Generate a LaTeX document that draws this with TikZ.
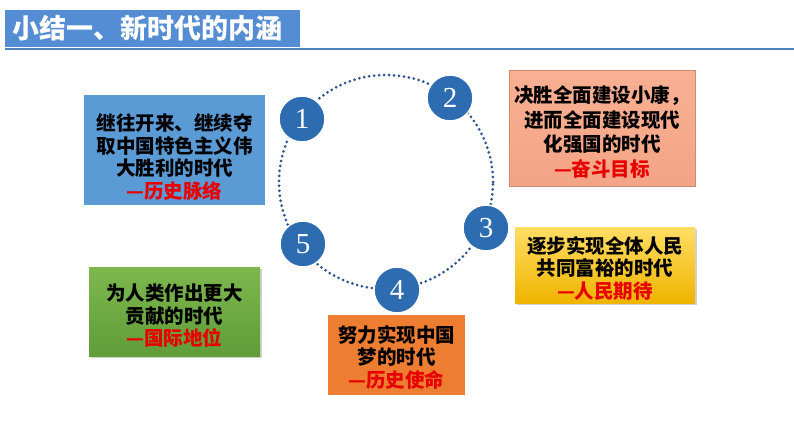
\documentclass[tikz,border=0pt]{standalone}
\usepackage{fontspec}
\setmainfont{Liberation Serif}
\newfontfamily\cjk{Noto Sans CJK SC}
\usetikzlibrary{shadows}
\definecolor{titleblue}{RGB}{84,141,212}
\definecolor{lineblue}{RGB}{79,129,189}
\definecolor{numblue}{RGB}{46,108,178}
\definecolor{ringblue}{RGB}{44,84,145}
\definecolor{histblue}{RGB}{91,155,213}
\definecolor{salmontop}{RGB}{248,176,146}
\definecolor{salmonbot}{RGB}{244,164,134}
\definecolor{goldtop}{RGB}{255,222,100}
\definecolor{goldbot}{RGB}{240,180,0}
\definecolor{greentop}{RGB}{125,184,78}
\definecolor{greenbot}{RGB}{96,156,56}
\definecolor{missionorange}{RGB}{237,125,49}
\definecolor{labelred}{RGB}{232,0,0}
\newcommand\lift[1]{\rule{0pt}{#1pt}}

\begin{document}
\begin{tikzpicture}[x=1pt,y=-1pt,semithick,
    num/.style={circle,fill=numblue,draw=white,line width=1.5pt,minimum size=46pt,
        inner sep=0pt,text=white,font=\fontsize{29}{29}\selectfont},
    box/.style={align=center,inner sep=0pt,font=\cjk\bfseries\fontsize{19.5}{22.5}\selectfont},
    shade/.style={drop shadow={opacity=0.35,shadow xshift=2pt,shadow yshift=-2pt}}]
    \useasboundingbox[fill=white] (0,0) rectangle (794,447);

    \node[fill=titleblue,text=white,anchor=west,minimum height=37pt,inner xsep=7pt,
        text width=281pt,font=\cjk\bfseries\fontsize{27}{27}\selectfont] (title) at (5,28.5) {小结一、新时代的内涵};
    \coordinate (lineend) at (794,49);
    \draw[lineblue,line width=2pt] (title.west |- lineend) -- (lineend);

    \coordinate (ring) at (386,182);
    \draw[ringblue,line width=3pt,line cap=round,dash pattern=on 0pt off 5pt] (ring) circle [radius=107pt];

    \node[num] (n1) at (302,119) {1};
    \node[num] (n2) at (450,98) {2};
    \node[num] (n3) at (486,228) {3};
    \node[num] (n4) at (397,290) {4};
    \node[num] (n5) at (303,244) {5};

    \node[box,fill=histblue,minimum width=181pt,minimum height=110pt] (history) at (174.5,150)
        {\lift{31}继往开来、继续夺\\取中国特色主义伟\\大胜利的时代\\\textcolor{labelred}{—历史脉络}};
    \node[box,top color=salmontop,bottom color=salmonbot,draw=salmonbot!85!black,line width=0.4pt,
        minimum width=186pt,minimum height=116pt,font=\cjk\bfseries\fontsize{19.5}{24.5}\selectfont] (goal) at (602,128)
        {\lift{25}决胜全面建设小康，\\进而全面建设现代\\化强国的时代\\\textcolor{labelred}{—奋斗目标}};
    \node[box,shade,top color=goldtop,bottom color=goldbot,minimum width=180pt,minimum height=76pt] (people) at (605,265)
        {\lift{23}逐步实现全体人民\\共同富裕的时代\\\textcolor{labelred}{—人民期待}};
    \node[box,shade,top color=greentop,bottom color=greenbot,minimum width=171pt,minimum height=89pt] (world) at (174.5,311.5)
        {\lift{25}为人类作出更大\\贡献的时代\\\textcolor{labelred}{—国际地位}};
    \node[box,fill=missionorange,minimum width=137pt,minimum height=80pt] (mission) at (396.5,355)
        {\lift{21}努力实现中国\\梦的时代\\\textcolor{labelred}{—历史使命}};
\end{tikzpicture}
\end{document}
